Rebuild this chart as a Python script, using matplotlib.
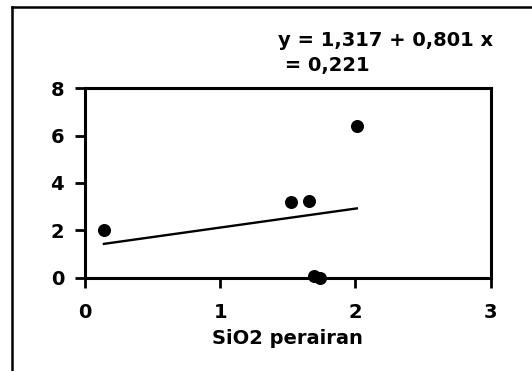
import matplotlib
matplotlib.use("Agg")
import matplotlib.pyplot as plt
from matplotlib.lines import Line2D
import numpy as np

# values
sio2 = [0.14, 1.52, 1.66, 2.01, 1.69, 1.74]
y_vals = [2.01, 3.21, 3.25, 6.40, 0.07, 0.00]
intercept = 1.317
slope = 0.801
x_ticks = [0, 1, 2, 3]
y_ticks = [0, 2, 4, 6, 8]
eq_line1 = "y = 1,317 + 0,801 x"
eq_line2 = " = 0,221"
x_label = "SiO2 perairan"

plt.rcParams['font.family'] = ['DejaVu Sans']
plt.rcParams['font.weight'] = 'bold'
fs = 14

fig = plt.figure(figsize=(5.32, 3.71), dpi=100)
fig.patch.set_facecolor('white')

# outer frame (left and top edges of the scanned box)
fig.add_artist(Line2D([12 / 532, 12 / 532], [0, 1 - 7 / 371], color='black', lw=1.8))
fig.add_artist(Line2D([12 / 532, 1], [1 - 7 / 371, 1 - 7 / 371], color='black', lw=1.8))

ax = fig.add_axes([85 / 532, 1 - 277.7 / 371, (490.7 - 85) / 532, (277.7 - 88.3) / 371])

ax.scatter(sio2, y_vals, s=70, color='black', zorder=3, clip_on=False)

xl = np.array([min(sio2), max(sio2)])
ax.plot(xl, intercept + slope * xl, color='black', lw=1.7)

ax.set_xlim(0, 3)
ax.set_ylim(0, 8)
ax.set_xticks(x_ticks)
ax.set_yticks(y_ticks)
ax.tick_params(axis='both', direction='out', length=7, width=2, labelsize=fs)
ax.tick_params(axis='y', pad=8)
ax.tick_params(axis='x', pad=11)
for sp in ax.spines.values():
    sp.set_linewidth(2.2)

ax.set_xlabel(x_label, fontsize=fs, labelpad=5, fontweight='bold')

fig.text(278 / 532, 1 - 41 / 371, eq_line1, fontsize=fs, va='center', ha='left')
fig.text(278 / 532, 1 - 66 / 371, eq_line2, fontsize=fs, va='center', ha='left')

fig.savefig("out.png", dpi=100)
